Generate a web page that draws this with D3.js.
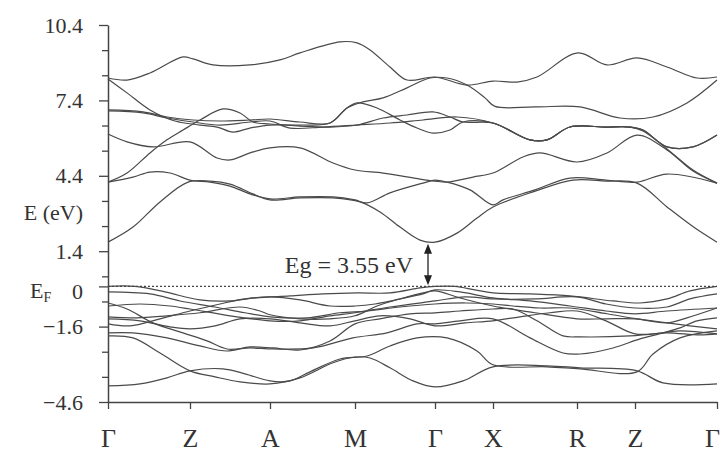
<!DOCTYPE html>
<html>
<head>
<meta charset="utf-8">
<script src="https://cdn.jsdelivr.net/npm/d3@7"></script>
<style>
body { margin:0; background:#fff; }
text { font-family: "Liberation Serif", "Times New Roman", serif; fill:#333; }
</style>
</head>
<body>
<svg id="chart"></svg>
<script>
// path through the Brillouin zone
const kLabels = ["Γ","Z","A","M","Γ","X","R","Z","Γ"]
const kTicks = [0, 0.82, 1.62, 2.47, 3.27, 3.85, 4.69, 5.27, 6.09]

const eTicks = [10.4, 7.4, 4.4, 1.4, 0, -1.6, -4.6]
const eMinor = [9.4, 8.4, 6.4, 5.4, 3.4, 2.4, 0.4, -0.6, -2.6, -3.6]

const gapText = "Eg = 3.55 eV"
const gapFrom = 0.05, gapTo = 1.70, gapK = 3.20

// conduction bands, [k, E in eV]
const c1 = [[0,1.76],[0.25,2.36],[0.52,3.36],[0.80,4.15],[1.02,4.19],[1.22,4.07],[1.45,3.68],[1.62,3.44],[1.92,3.52],[2.25,3.52],[2.52,3.36],[2.72,2.96],[2.92,2.36],[3.12,1.84],[3.27,1.76],[3.49,2.12],[3.69,2.72],[3.85,3.16],[4.25,3.76],[4.65,4.23],[4.98,4.19],[5.29,4.11],[5.59,3.16],[5.87,2.32],[6.09,1.76]]
const c2 = [[0,4.15],[0.25,4.35],[0.42,4.55],[0.62,4.51],[0.82,4.23],[1.02,4.15],[1.22,3.99],[1.42,3.68],[1.62,3.48],[1.92,3.56],[2.25,3.56],[2.47,3.44],[2.59,3.32],[2.82,3.72],[3.15,4.11],[3.27,4.23],[3.39,4.15],[3.62,3.84],[3.85,3.24],[3.95,3.44],[4.27,3.84],[4.62,4.31],[4.98,4.23],[5.29,4.15],[5.59,4.47],[6.09,4.11]]
const c3 = [[0,6.06],[0.19,5.75],[0.45,5.55],[0.82,5.75],[1.09,5.11],[1.22,5.03],[1.42,5.31],[1.62,5.51],[1.92,5.51],[2.25,4.91],[2.47,4.63],[2.75,4.51],[3.12,4.27],[3.27,4.19],[3.39,4.15],[3.65,4.35],[3.85,4.51],[4.15,5.15],[4.32,5.31],[4.69,4.95],[4.99,5.31],[5.29,6.02],[5.59,5.43],[5.85,4.59],[6.09,4.11]]
const c4 = [[0,6.98],[0.35,6.90],[0.59,6.70],[0.85,6.54],[1.12,6.42],[1.42,6.54],[1.62,6.58],[1.82,6.30],[2.15,6.34],[2.49,6.42],[2.82,6.50],[3.15,6.62],[3.49,6.74],[3.85,6.50],[4.22,5.83],[4.39,5.83],[4.62,6.34],[4.98,6.34],[5.22,6.34],[5.35,6.22],[5.59,5.55],[5.85,5.55],[6.09,6.02]]
const c5 = [[0,4.15],[0.19,4.51],[0.42,5.31],[0.59,5.83],[0.75,6.22],[0.92,6.62],[1.15,7.06],[1.32,6.90],[1.45,6.54],[1.62,6.46],[1.92,6.38],[2.22,6.34],[2.49,6.42],[2.75,6.70],[2.99,6.82],[3.25,6.94],[3.42,6.74],[3.55,6.54],[3.85,6.50],[4.22,5.83],[4.39,5.83],[4.62,6.34],[4.98,6.34],[5.22,6.34],[5.35,6.18],[5.59,5.47],[5.85,4.63],[6.09,4.11]]
const c6 = [[0,7.02],[0.35,6.94],[0.59,6.74],[0.85,6.62],[1.12,6.58],[1.42,6.62],[1.62,6.66],[1.92,6.54],[2.22,6.50],[2.39,7.10],[2.49,7.30],[2.69,7.10],[2.92,6.62],[3.09,6.30],[3.25,6.10],[3.42,6.22],[3.55,6.54],[3.85,6.50],[4.22,5.83],[4.39,5.83],[4.62,6.34],[4.98,6.34],[5.22,6.34],[5.35,6.22],[5.59,5.55],[5.85,5.55],[6.09,6.02]]
const c7 = [[0,8.25],[0.19,7.70],[0.42,7.02],[0.67,6.58],[0.92,6.42],[1.09,6.34],[1.25,6.14],[1.42,6.30],[1.62,6.42],[1.92,6.42],[2.22,6.50],[2.39,7.10],[2.55,7.34],[2.75,7.50],[2.99,7.90],[3.22,8.29],[3.39,8.29],[3.59,8.01],[3.77,7.50],[3.87,7.16],[4.27,7.14],[4.72,7.14],[5.12,6.70],[5.45,6.74],[5.79,7.30],[6.09,8.21]]
const c8 = [[0,8.29],[0.19,8.21],[0.42,8.49],[0.75,9.13],[0.85,9.05],[1.05,8.81],[1.42,8.81],[1.72,9.01],[1.92,9.29],[2.32,9.73],[2.49,9.69],[2.62,9.41],[2.82,8.73],[2.99,8.21],[3.27,8.33],[3.59,8.01],[3.85,8.17],[4.09,8.13],[4.29,8.33],[4.70,9.29],[4.99,8.81],[5.29,9.09],[5.59,8.73],[5.89,8.29],[6.09,8.33]]

// valence bands
const v1 = [[0,0],[0.27,0],[0.57,-0.22],[0.92,-0.54],[1.22,-0.58],[1.47,-0.46],[1.82,-0.38],[2.15,-0.30],[2.49,-0.26],[2.82,-0.26],[3.12,-0.06],[3.27,0],[3.47,0],[3.67,-0.14],[3.85,-0.26],[4.22,-0.30],[4.62,-0.38],[5.05,-0.58],[5.32,-0.66],[5.59,-0.50],[5.82,-0.18],[6.09,0]]
const v2 = [[0,-0.22],[0.42,-0.30],[0.72,-0.58],[1.07,-0.82],[1.37,-1.05],[1.62,-1.21],[1.99,-1.25],[2.32,-1.05],[2.59,-0.98],[2.92,-0.82],[3.27,-0.70],[3.57,-0.66],[3.85,-0.70],[4.05,-0.78],[4.32,-0.86],[4.62,-0.86],[4.99,-1.09],[5.29,-1.29],[5.59,-1.45],[5.79,-1.25],[6.09,-0.86]]
const v3 = [[0,-0.66],[0.19,-0.90],[0.45,-1.45],[0.75,-1.85],[0.99,-2.17],[1.19,-2.49],[1.42,-2.45],[1.65,-2.49],[2.05,-2.45],[2.45,-2.05],[2.79,-1.85],[3.09,-1.49],[3.27,-1.49],[3.52,-1.37],[3.85,-1.29],[4.22,-2.05],[4.55,-2.65],[4.72,-2.69],[5.05,-2.45],[5.32,-2.09],[5.55,-1.85],[5.72,-1.65],[5.89,-1.37],[6.09,-1.25]]
const v4 = [[0,-1.21],[0.29,-1.25],[0.59,-1.17],[0.92,-1.05],[1.32,-0.82],[1.52,-0.98],[1.62,-1.13],[1.92,-1.29],[2.22,-1.29],[2.47,-1.17],[2.69,-0.78],[2.92,-0.50],[3.15,-0.26],[3.27,-0.18],[3.52,-0.46],[3.85,-0.78],[4.27,-1.05],[4.69,-1.29],[4.98,-1.29],[5.27,-1.29],[5.59,-1.45],[5.82,-1.57],[6.09,-1.69]]
const v5 = [[0,-1.85],[0.25,-1.85],[0.59,-2.05],[0.92,-2.37],[1.19,-2.57],[1.42,-2.41],[1.65,-2.45],[1.92,-2.53],[2.22,-2.17],[2.47,-1.49],[2.72,-1.29],[3.02,-1.09],[3.27,-1.05],[3.52,-0.98],[3.85,-0.90],[4.05,-0.90],[4.29,-1.37],[4.55,-1.97],[4.72,-2.01],[5.22,-1.97],[5.55,-1.85],[5.72,-1.77],[6.09,-1.89]]
const v6 = [[0,-1.97],[0.25,-2.05],[0.52,-2.65],[0.82,-3.36],[1.07,-3.60],[1.32,-3.80],[1.62,-3.88],[1.92,-3.64],[2.25,-3.04],[2.47,-2.81],[2.62,-2.85],[2.82,-3.24],[3.05,-3.76],[3.27,-4.00],[3.55,-3.76],[3.85,-3.20],[4.39,-3.16],[4.72,-3.24],[5.29,-3.36],[5.55,-3.84],[6.09,-3.88]]
const v7 = [[0,-3.96],[0.32,-3.88],[0.59,-3.64],[0.82,-3.36],[1.15,-3.28],[1.37,-3.48],[1.62,-3.76],[1.82,-3.76],[2.02,-3.40],[2.32,-2.89],[2.59,-2.77],[2.82,-2.37],[3.09,-2.05],[3.39,-2.05],[3.69,-2.57],[3.85,-3.12],[4.39,-3.20],[4.72,-3.28],[5.29,-3.40],[5.45,-2.69],[5.72,-2.05],[6.09,-1.77]]
const v8 = [[0,-1.49],[0.22,-1.57],[0.52,-1.29],[0.82,-0.98],[1.12,-0.70],[1.37,-0.50],[1.62,-0.42],[1.92,-0.54],[2.22,-0.78],[2.47,-0.78],[2.67,-0.70],[2.92,-0.50],[3.15,-0.30],[3.27,-0.14],[3.52,-0.22],[3.85,-0.46],[4.22,-0.58],[4.62,-0.78],[4.98,-0.98],[5.27,-1.09],[5.59,-0.98],[6.09,-0.86]]
const v9 = [[0,-1.29],[0.32,-1.37],[0.62,-1.61],[0.82,-1.69],[1.07,-1.57],[1.32,-1.29],[1.62,-1.29],[1.92,-1.45],[2.22,-1.57],[2.47,-1.37],[2.72,-1.17],[3.02,-1.29],[3.27,-1.57],[3.57,-1.45],[3.85,-1.37],[4.12,-1.21],[4.42,-1.05],[4.69,-0.98],[4.98,-1.37],[5.27,-1.89],[5.59,-1.85],[5.92,-1.93],[6.09,-1.89]]
const v10 = [[0,-0.78],[0.32,-0.70],[0.62,-0.78],[0.82,-0.90],[1.22,-1.17],[1.62,-1.37],[1.92,-1.37],[2.22,-1.17],[2.47,-1.05],[2.82,-0.82],[3.27,-0.58],[3.57,-0.42],[3.85,-0.50],[4.27,-0.50],[4.69,-0.42],[4.98,-0.70],[5.27,-0.86],[5.59,-0.82],[5.82,-0.50],[6.09,-0.30]]

const bands = [c1, c2, c3, c4, c5, c6, c7, c8, v1, v2, v3, v4, v5, v6, v7, v8, v9, v10]

const width = 723
const height = 452

const svg = d3.select("#chart")
    .attr("width", width)
    .attr("height", height)

const x = d3.scaleLinear().domain([0, 6.09]).range([108, 717])
const y = d3.scaleLinear().domain([-4.6, 10.4]).range([402, 25])

const line = d3.line()
    .x(d => x(d[0]))
    .y(d => y(d[1]))
    .curve(d3.curveCatmullRom.alpha(0.5))

svg.append("g")
    .selectAll("path")
    .data(bands)
    .enter()
    .append("path")
    .attr("d", line)
    .attr("fill", "none")
    .attr("stroke", "#4a4a4a")
    .attr("stroke-width", 1.2)

// Fermi level
svg.append("line")
    .attr("x1", x(0)).attr("x2", x(6.09))
    .attr("y1", y(0)).attr("y2", y(0))
    .attr("stroke", "#444")
    .attr("stroke-width", 1.2)
    .attr("stroke-dasharray", "2,2")

// axes
const gy = svg.append("g")
    .attr("transform", `translate(${x(0)},0)`)
    .call(d3.axisLeft(y).tickValues(eTicks).tickSize(9).tickSizeOuter(0).tickPadding(16)
        .tickFormat(d => d === 0 ? "" : d3.format(".1f")(d)))
gy.selectAll("text").attr("font-size", 22).attr("fill", "#333")

const gyMinor = svg.append("g")
    .attr("transform", `translate(${x(0)},0)`)
    .call(d3.axisLeft(y).tickValues(eMinor).tickSize(6).tickFormat(""))
gyMinor.select(".domain").remove()

const gx = svg.append("g")
    .attr("transform", `translate(0,${y(-4.6)})`)
    .call(d3.axisBottom(x).tickValues(kTicks).tickSize(7).tickSizeOuter(0)
        .tickFormat((d, i) => kLabels[i]))
gx.selectAll("text")
    .attr("font-size", 26)
    .attr("fill", "#333")
    .attr("y", 45)
    .attr("dy", 0)
    .attr("dx", (d, i) => i === kLabels.length - 1 ? -5 : 0)

svg.selectAll(".domain").attr("stroke", "#444").attr("stroke-width", 1.5)
svg.selectAll(".tick line").attr("stroke", "#444").attr("stroke-width", 1.3)

// labels on the energy axis
svg.append("text")
    .attr("x", 83).attr("y", 220)
    .attr("text-anchor", "end")
    .attr("font-size", 22)
    .text("E (eV)")

svg.append("text")
    .attr("x", 83).attr("y", y(0) + 13)
    .attr("text-anchor", "end")
    .attr("font-size", 22)
    .text("0")

const ef = svg.append("text")
    .attr("x", 30).attr("y", y(0) + 12)
    .attr("font-size", 22)
    .text("E")
ef.append("tspan").attr("font-size", 14).attr("dy", 4).text("F")

// band gap arrow
const ax = x(gapK)
svg.append("line")
    .attr("x1", ax).attr("x2", ax)
    .attr("y1", y(gapTo) + 6).attr("y2", y(gapFrom) - 6)
    .attr("stroke", "#222").attr("stroke-width", 1.3)

svg.append("path")
    .attr("d", `M${ax},${y(gapTo)} l-4,10 l8,0 Z M${ax},${y(gapFrom)} l-4,-10 l8,0 Z`)
    .attr("fill", "#222")

svg.append("text")
    .attr("x", 413).attr("y", 273)
    .attr("text-anchor", "end")
    .attr("font-size", 24)
    .text(gapText)
</script>
</body>
</html>
